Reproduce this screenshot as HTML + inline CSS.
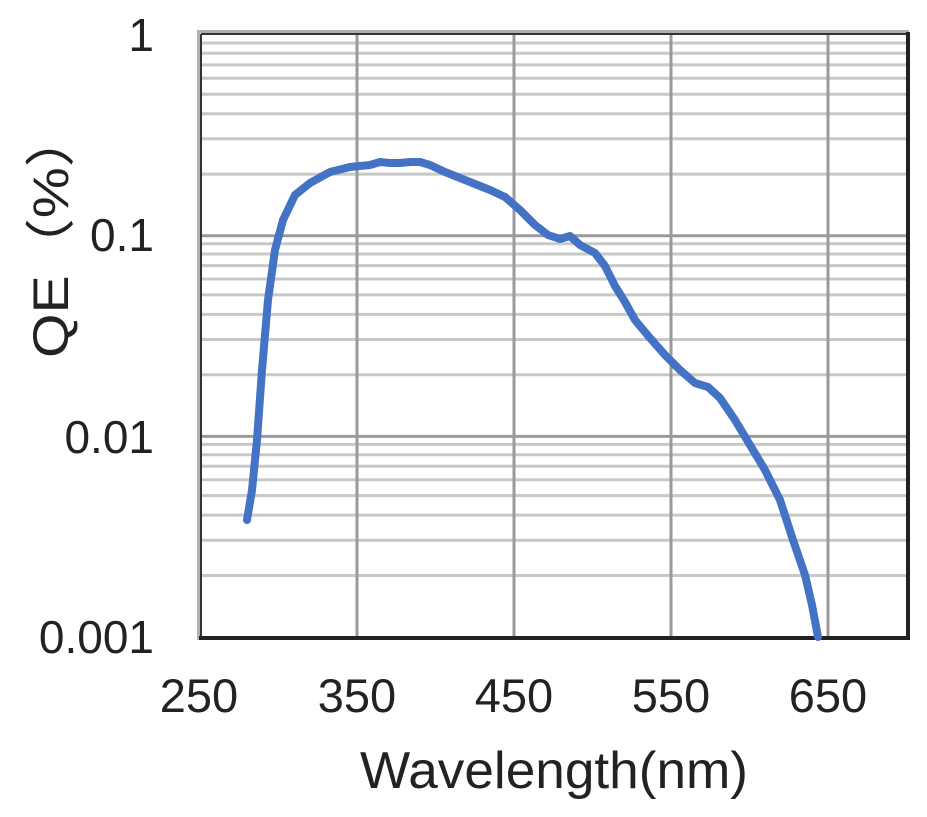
<!DOCTYPE html>
<html><head><style>body{margin:0;background:#fff}</style></head><body>
<svg width="927" height="812" xmlns="http://www.w3.org/2000/svg" font-family="Liberation Sans, sans-serif">
<rect width="927" height="812" fill="#fff"/>
<g stroke="#c8c8c8" stroke-width="3">
<line x1="202" x2="906" y1="174.1" y2="174.1"/><line x1="202" x2="906" y1="138.8" y2="138.8"/><line x1="202" x2="906" y1="113.7" y2="113.7"/><line x1="202" x2="906" y1="94.2" y2="94.2"/><line x1="202" x2="906" y1="78.3" y2="78.3"/><line x1="202" x2="906" y1="64.9" y2="64.9"/><line x1="202" x2="906" y1="53.3" y2="53.3"/><line x1="202" x2="906" y1="43.0" y2="43.0"/>
<line x1="202" x2="906" y1="374.8" y2="374.8"/><line x1="202" x2="906" y1="339.5" y2="339.5"/><line x1="202" x2="906" y1="314.4" y2="314.4"/><line x1="202" x2="906" y1="294.9" y2="294.9"/><line x1="202" x2="906" y1="279.0" y2="279.0"/><line x1="202" x2="906" y1="265.6" y2="265.6"/><line x1="202" x2="906" y1="254.0" y2="254.0"/><line x1="202" x2="906" y1="243.7" y2="243.7"/>
<line x1="202" x2="906" y1="575.5" y2="575.5"/><line x1="202" x2="906" y1="540.2" y2="540.2"/><line x1="202" x2="906" y1="515.1" y2="515.1"/><line x1="202" x2="906" y1="495.6" y2="495.6"/><line x1="202" x2="906" y1="479.7" y2="479.7"/><line x1="202" x2="906" y1="466.3" y2="466.3"/><line x1="202" x2="906" y1="454.7" y2="454.7"/><line x1="202" x2="906" y1="444.4" y2="444.4"/>
</g>
<g stroke="#9a9a9a" stroke-width="3">
<line x1="202" x2="906" y1="235.7" y2="235.7"/><line x1="202" x2="906" y1="436.4" y2="436.4"/>
<line x1="357" x2="357" y1="35" y2="637"/><line x1="514" x2="514" y1="35" y2="637"/><line x1="671" x2="671" y1="35" y2="637"/><line x1="828" x2="828" y1="35" y2="637"/>
</g>
<rect x="198.5" y="31.5" width="709" height="607" fill="none" stroke="#b0b0b0" stroke-width="3"/>
<line x1="201" y1="34" x2="201" y2="638" stroke="#333" stroke-width="2"/>
<line x1="201" y1="34" x2="907" y2="34" stroke="#333" stroke-width="2"/>
<line x1="908" y1="32" x2="908" y2="640" stroke="#222" stroke-width="4"/>
<line x1="199" y1="638" x2="910" y2="638" stroke="#222" stroke-width="4"/>
<polyline fill="none" stroke="#4472c4" stroke-width="8" stroke-linecap="round" stroke-linejoin="round" points="247,520 252,490 257,440 262,370 268,300 275,250 283,220 295,195 310,183 330,172 350,167 370,165 380,162 390,163 400,163 410,162 420,162 430,165 445,172 460,178 475,184 490,190 505,197 520,210 535,225 548,235 560,239 570,236 580,245 595,253 605,266 615,286 625,302 635,320 650,338 665,355 680,370 695,383 708,387 720,398 735,420 750,445 765,470 780,500 793,540 805,575 812,605 818,637"/>
<g font-size="46" fill="#222" text-anchor="end">
<text x="154" y="51">1</text>
<text x="154" y="251">0.1</text>
<text x="154" y="453">0.01</text>
<text x="154" y="653">0.001</text>
</g>
<g font-size="47" fill="#222" text-anchor="middle">
<text x="199" y="712">250</text>
<text x="357" y="712">350</text>
<text x="514" y="712">450</text>
<text x="671" y="712">550</text>
<text x="828" y="712">650</text>
</g>
<text x="360" y="788" font-size="52" fill="#222" textLength="388" lengthAdjust="spacingAndGlyphs">Wavelength(nm)</text>
<text transform="translate(68,358) rotate(-90)" font-size="50" fill="#222" textLength="248" lengthAdjust="spacingAndGlyphs">QE（%）</text>
</svg>
</body></html>
